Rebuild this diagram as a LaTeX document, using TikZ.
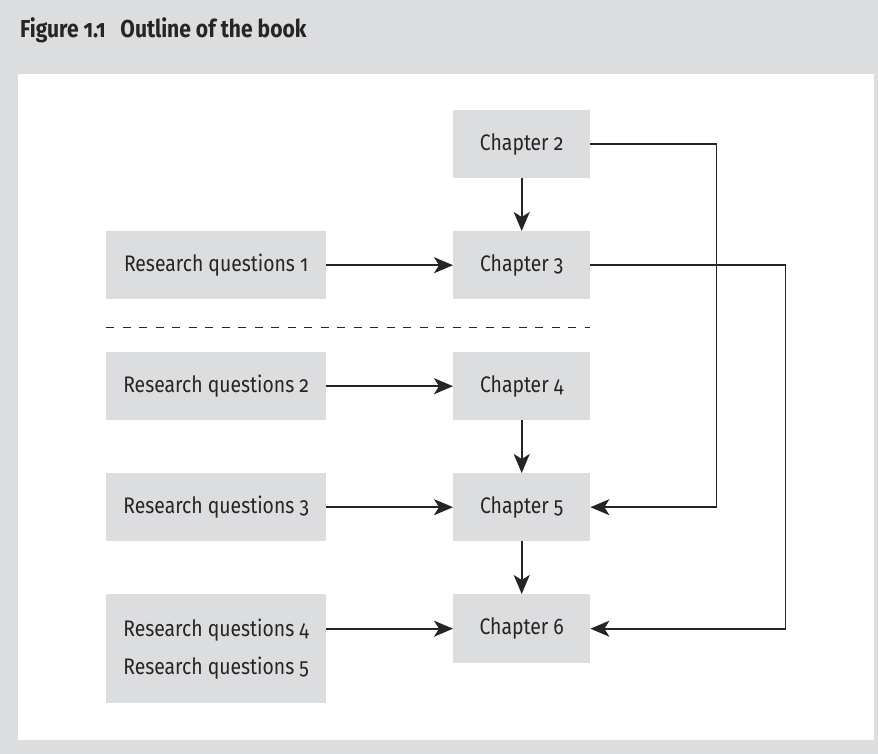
\documentclass[tikz,border=0pt]{standalone}
\usepackage{fontspec}
\setmainfont{Fira Sans}[Numbers=OldStyle, FakeStretch=0.86]
\usetikzlibrary{arrows.meta,calc}
\definecolor{panel}{RGB}{220,221,223}
\definecolor{ink}{RGB}{38,36,37}
\begin{document}
\begin{tikzpicture}[x=1pt,y=-1pt,
  box/.style={fill=panel, draw=none, inner sep=0pt, anchor=north west, font=\fontsize{22.5}{38}\selectfont, text=ink},
  chbox/.style={box, minimum width=137pt, minimum height=68pt},
  rqbox/.style={box, minimum width=220pt, minimum height=68pt},
  conn/.style={draw=ink, line width=1.6pt, -{Stealth[length=19pt,width=16pt,inset=5pt]}},
  sep/.style={draw=ink, line width=1.2pt, dash pattern=on 8pt off 8.5pt},
]
\fill[panel] (0,0) rectangle (878,754);
\fill[white] (18,74) rectangle (874,740);
\useasboundingbox (0,0) rectangle (878,754);
\node[anchor=base west, inner sep=0pt, font=\bfseries\fontsize{24.5}{28}\selectfont, text=ink] (title) at (20,38) {Figure 1.1\hspace{0.6em}Outline of the book};
\node[chbox] (ch2) at (453,110) {Chapter 2};
\node[chbox] (ch3) at (453,231) {Chapter 3};
\node[chbox] (ch4) at (453,352) {Chapter 4};
\node[chbox] (ch5) at (453,473) {Chapter 5};
\node[chbox, minimum height=69pt] (ch6) at (453,594) {Chapter 6};
\node[rqbox] (rq1) at (106,231) {Research questions 1};
\node[rqbox] (rq2) at (106,352) {Research questions 2};
\node[rqbox] (rq3) at (106,473) {Research questions 3};
\node[rqbox, minimum height=109pt, align=left] (rq45) at (106,594) {Research questions 4\\Research questions 5};
\draw[sep] ($(rq1.south west)+(0,28)$) -- ($(ch3.south east)+(0,28)$);
\draw[conn] (ch2) -- (ch3);
\draw[conn] (rq1) -- (ch3);
\draw[conn] (rq2) -- (ch4);
\draw[conn] (rq3) -- (ch5);
\draw[conn] (ch4) -- (ch5);
\draw[conn] (ch5) -- (ch6);
\draw[conn] (rq45.east |- ch6.west) -- (ch6.west);
\draw[conn] (ch2.east) -- ++(126,0) |- (ch5.east);
\draw[conn] (ch3.east) -- ++(195,0) |- (ch6.east);
\end{tikzpicture}
\end{document}
